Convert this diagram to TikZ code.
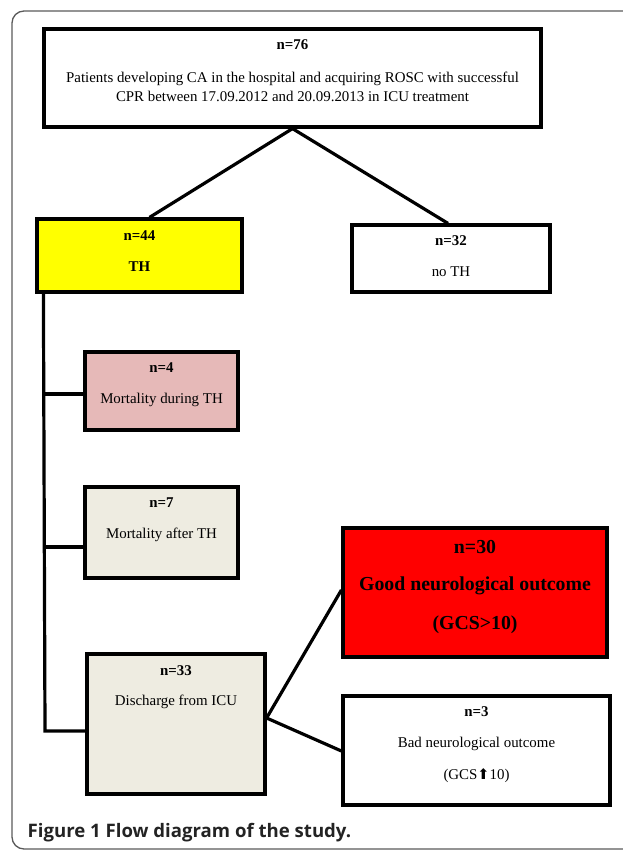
\documentclass[tikz,border=0pt]{standalone}
\usepackage{fontspec}
\setmainfont{Liberation Serif}
\newfontfamily\capfont{Open Sans}
\newfontfamily\symfont{DejaVu Sans}
\definecolor{thyellow}{RGB}{255,255,0}
\definecolor{pinkfill}{RGB}{230,185,184}
\definecolor{beigefill}{RGB}{238,236,225}
\definecolor{goodred}{RGB}{255,0,0}
\definecolor{framegray}{RGB}{90,90,90}
\definecolor{captext}{RGB}{35,35,35}
\begin{document}
\begin{tikzpicture}[x=1pt,y=-1pt,
  box/.style={draw=black,line width=3.2pt,rectangle,inner sep=0pt},
  conn/.style={draw=black,line width=3.2pt},
  txt/.style={inner sep=0pt,font=\fontsize{14.9}{19}\selectfont,align=center},
  btxt/.style={txt,font=\fontsize{14.9}{19}\selectfont\bfseries},
  bigtxt/.style={inner sep=0pt,font=\fontsize{19.8}{24}\selectfont\bfseries,align=center}]
\useasboundingbox (0,0) rectangle (622,851);
% frame
\draw[framegray,line width=1.3pt,rounded corners=12pt] (630,11) -- (12,11) -- (12,849) -- (630,849);
% boxes
\node[box,minimum width=497,minimum height=98] (top) at (292.5,78) {};
\node[box,fill=thyellow,minimum width=205,minimum height=73] (th) at (139.5,255.5) {};
\node[box,minimum width=198,minimum height=67] (noth) at (451,258.5) {};
\node[box,fill=pinkfill,minimum width=153,minimum height=78] (mdur) at (161.5,391) {};
\node[box,fill=beigefill,minimum width=153,minimum height=91] (maft) at (161.5,532.5) {};
\node[box,fill=beigefill,minimum width=178,minimum height=140] (disc) at (176,724) {};
\node[box,fill=goodred,minimum width=264,minimum height=129] (good) at (475,592.5) {};
\node[box,minimum width=267,minimum height=109] (bad) at (476.5,750.5) {};
% texts
\node[btxt] (t76) at (292.5,45) {n=76};
\node[txt] (ttop) at (292.5,86.5) {Patients developing CA in the hospital and acquiring ROSC with successful\\CPR between 17.09.2012 and 20.09.2013 in ICU treatment};
\node[btxt] (t44) at (139.5,236) {n=44};
\node[btxt] (tth) at (139.5,267) {TH};
\node[btxt] (t32) at (451,241) {n=32};
\node[txt] (tnoth) at (451,272) {no TH};
\node[btxt] (t4) at (161.5,368) {n=4};
\node[txt] (tmdur) at (161.5,400) {Mortality during TH};
\node[btxt] (t7) at (161.5,503) {n=7};
\node[txt] (tmaft) at (161.5,535) {Mortality after TH};
\node[btxt] (t33) at (176,671) {n=33};
\node[txt] (tdisc) at (176,702) {Discharge from ICU};
\node[bigtxt] (t30) at (475,547) {n=30};
\node[bigtxt] (tgood) at (475,586) {Good neurological outcome};
\node[bigtxt] (tgcs) at (475,625) {(GCS>10)};
\node[btxt] (t3) at (476.5,712) {n=3};
\node[txt] (tbad) at (476.5,744) {Bad neurological outcome};
\node[txt] (tgcs2) at (476.5,776) {(GCS{\symfont\fontsize{14.5}{15}\selectfont ⬆}10)};
% connectors
\coordinate (vbot) at (45,731);
\draw[conn] (top.south) -- ([xshift=10pt]th.north);
\draw[conn] (top.south) -- ([xshift=-3pt]noth.north);
\draw[conn] ([xshift=8pt]th.south west) -- (vbot) -- (vbot -| disc.west);
\draw[conn] (45,394) -- (mdur.west |- 0,394);
\draw[conn] (45,547) -- (maft.west |- 0,547);
\coordinate (dr) at (disc.east |- 0,718);
\draw[conn] (dr) -- (good.west |- 0,590);
\draw[conn] (dr) -- (bad.west |- 0,751);
% caption
\node[anchor=base west,inner sep=0pt,text=captext,font=\capfont\bfseries\fontsize{18.6}{20}\selectfont] (cap) at (27.5,837.5) {Figure 1 Flow diagram of the study.};
\end{tikzpicture}
\end{document}
